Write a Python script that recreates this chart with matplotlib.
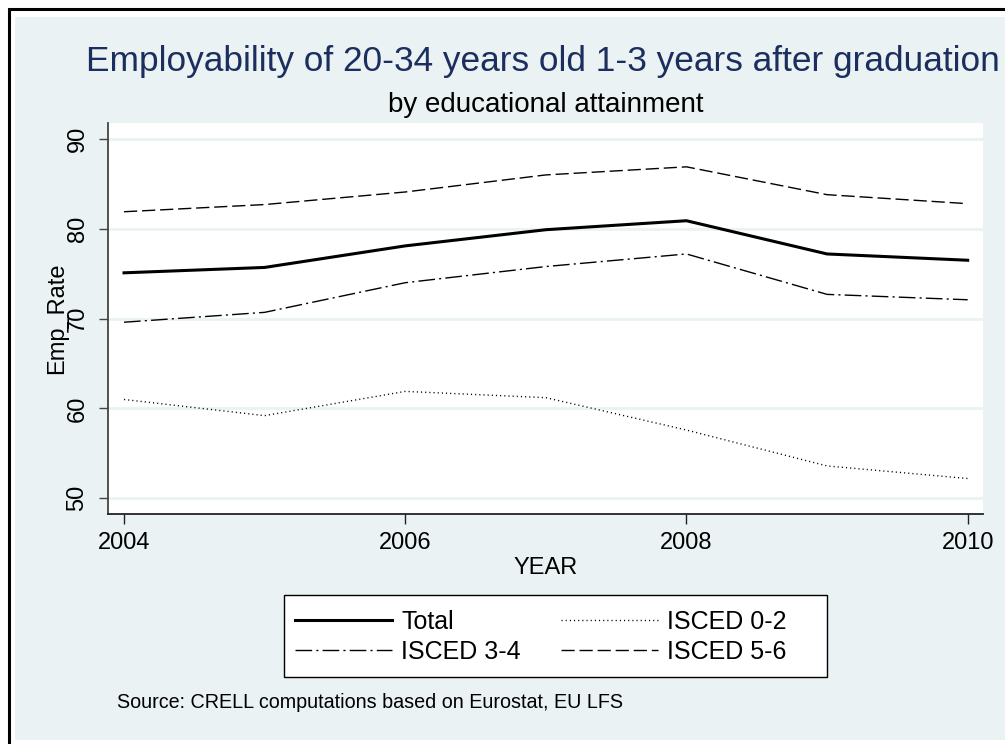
import matplotlib
matplotlib.use("Agg")
import matplotlib.pyplot as plt
from matplotlib.patches import Rectangle

plt.rcParams['font.family'] = ['Liberation Sans', 'DejaVu Sans']
plt.rcParams['lines.scale_dashes'] = False

# data
years = [2004, 2005, 2006, 2007, 2008, 2009, 2010]
total = [75.1, 75.7, 78.1, 79.9, 80.9, 77.2, 76.5]
isced_02 = [61.0, 59.2, 61.9, 61.2, 57.6, 53.6, 52.2]
isced_34 = [69.6, 70.7, 74.0, 75.8, 77.2, 72.7, 72.1]
isced_56 = [81.9, 82.7, 84.1, 86.0, 86.9, 83.8, 82.8]

x_ticks = [2004, 2006, 2008, 2010]
y_ticks = [50, 60, 70, 80, 90]

bg = '#EAF2F3'
W, H = 1005, 744

fig = plt.figure(figsize=(W / 100, H / 100), dpi=100)
fig.patch.set_facecolor('white')

# Stata-like graph region: black frame, white gap, bluish fill
fig.patches.append(Rectangle((8.5 / W, -0.1), 1.2, 1 - 8.5 / H + 0.1,
                             transform=fig.transFigure, facecolor='white',
                             edgecolor='black', linewidth=2.2, zorder=-2))
fig.patches.append(Rectangle((15 / W, 4 / H), 1.0, 1 - 21 / H,
                             transform=fig.transFigure, facecolor=bg,
                             edgecolor='none', zorder=-1))

ax = fig.add_axes([108 / W, 1 - 514 / H, 875 / W, 391 / H])
ax.set_zorder(2)
ax.set_facecolor('white')

l_tot, = ax.plot(years, total, color='black', lw=2.2, label='Total')
l_02, = ax.plot(years, isced_02, color='black', lw=1.0, dashes=(0.8, 2.2), label='ISCED 0-2')
l_34, = ax.plot(years, isced_34, color='black', lw=1.0, dashes=(12, 3, 1.5, 3), label='ISCED 3-4')
l_56, = ax.plot(years, isced_56, color='black', lw=1.0, dashes=(9.5, 3.5), label='ISCED 5-6')

ax.set_xlim(2003.886, 2010.109)
ax.set_ylim(48.25, 91.78)
ax.set_xticks(x_ticks)
ax.set_yticks(y_ticks)
ax.grid(axis='y', color=bg, lw=2)
ax.set_axisbelow(True)

for s in ['top', 'right']:
    ax.spines[s].set_visible(False)
ax.spines['left'].set_color('#444444')
ax.spines['bottom'].set_color('#222222')
ax.spines['left'].set_linewidth(1.3)
ax.spines['bottom'].set_linewidth(1.3)

ax.tick_params(axis='x', length=7, width=1, pad=6, labelsize=17, color='#222222')
ax.tick_params(axis='y', length=6.5, width=1, pad=7.5, labelsize=17, color='#444444')
for lab in ax.get_yticklabels():
    lab.set_rotation(90)
    lab.set_va('center')

ax.set_xlabel('YEAR', fontsize=17, labelpad=2)
fig.text(57 / W, 1 - 318 / H, 'Emp_Rate', rotation=90, ha='center', va='center', fontsize=17)

fig.text(543 / W, 1 - 62 / H, 'Employability of 20-34 years old 1-3 years after graduation',
         ha='center', va='center', fontsize=25.4, color='#1c2e5e')
fig.text(546 / W, 1 - 105 / H, 'by educational attainment',
         ha='center', va='center', fontsize=20)

# legend box drawn separately (Stata centres the columns in a wider box)
fig.patches.append(Rectangle((284 / W, 1 - 677 / H), 543 / W, 82 / H,
                             transform=fig.transFigure, facecolor='white',
                             edgecolor='black', linewidth=1.0, zorder=1))

# Stata fills legend row-wise; matplotlib fills column-wise
leg = fig.legend([l_tot, l_34, l_02, l_56], ['Total', 'ISCED 3-4', 'ISCED 0-2', 'ISCED 5-6'],
                 loc='center left', bbox_to_anchor=(295 / W, 1 - 637 / H), ncol=2,
                 fontsize=18, handlelength=3.88, handletextpad=0.36, columnspacing=1.6,
                 labelspacing=0.25, borderpad=0, borderaxespad=0, frameon=False)
leg.set_zorder(3)

fig.text(117 / W, 1 - 702 / H, 'Source: CRELL computations based on Eurostat, EU LFS',
         ha='left', va='center', fontsize=14.2)

fig.savefig('out.png', dpi=100, facecolor=fig.get_facecolor())
